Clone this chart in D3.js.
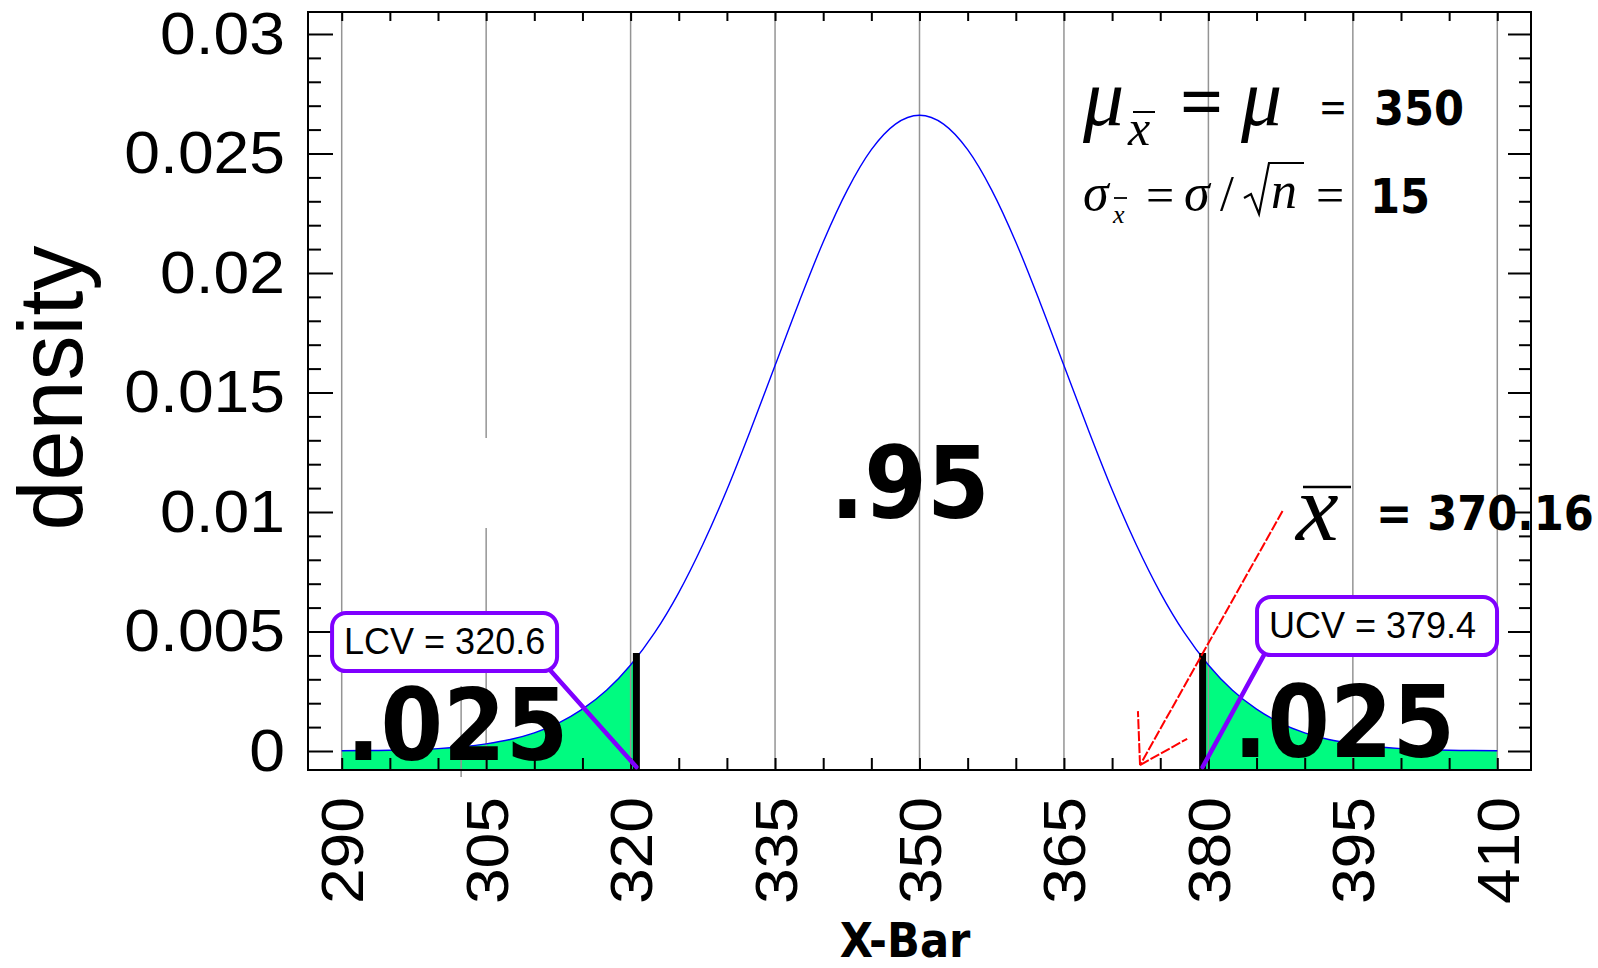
<!DOCTYPE html>
<meta charset="utf-8">
<script src="https://cdn.jsdelivr.net/npm/d3@7"></script>
<style>
body { margin: 0; background: #fff; }
text { font-family: "Liberation Sans", Arial, sans-serif; fill: #000; }
.bold { font-family: "DejaVu Sans Condensed", "DejaVu Sans", sans-serif; font-weight: bold; font-stretch: condensed; }
.math { font-family: "Liberation Serif", "Times New Roman", serif; font-style: italic; }
.serif { font-family: "Liberation Serif", "Times New Roman", serif; }
</style>
<body>
<script>

// sampling distribution of x-bar (mean 350, se 15)
var xValues = [290, 292.5, 295, 297.5, 300, 302.5, 305, 307.5, 310, 312.5, 315, 317.5, 320,
               322.5, 325, 327.5, 330, 332.5, 335, 337.5, 340, 342.5, 345, 347.5, 350,
               352.5, 355, 357.5, 360, 362.5, 365, 367.5, 370, 372.5, 375, 377.5, 380,
               382.5, 385, 387.5, 390, 392.5, 395, 397.5, 400, 402.5, 405, 407.5, 410]
var density = [0.00001, 0.00002, 0.00003, 0.00006, 0.0001, 0.00018, 0.0003, 0.00048, 0.00076, 0.00117, 0.00175, 0.00254, 0.0036,
               0.00495, 0.00663, 0.00864, 0.01093, 0.01347, 0.01613, 0.01879, 0.0213, 0.02347, 0.02516, 0.02623, 0.0266,
               0.02623, 0.02516, 0.02347, 0.0213, 0.01879, 0.01613, 0.01347, 0.01093, 0.00864, 0.00663, 0.00495, 0.0036,
               0.00254, 0.00175, 0.00117, 0.00076, 0.00048, 0.0003, 0.00018, 0.0001, 0.00006, 0.00003, 0.00002, 0.00001]

var xTicks = [290, 305, 320, 335, 350, 365, 380, 395, 410]
var xTickLabels = ["290", "305", "320", "335", "350", "365", "380", "395", "410"]
var yTicks = [0, 0.005, 0.01, 0.015, 0.02, 0.025, 0.03]
var yTickLabels = ["0", "0.005", "0.01", "0.015", "0.02", "0.025", "0.03"]

var lcv = 320.6
var ucv = 379.4
var critDensity = 0.0039   // curve height at both critical values
var critBarTop = 0.0041
var xbar = 370.16
var mu = 350
var se = 15
var areaLabels = [".025", ".95", ".025"]
var areaLabelX = [302.0, 349.0, 394.1]
var areaLabelY = [-0.00038, 0.00975, -0.00025]

var width = 1598
var height = 968

var x = d3.scaleLinear().domain([286.5, 413.5]).range([308, 1531]);
var y = d3.scaleLinear().domain([-0.000795, 0.03092]).range([770, 12]);
var x0 = x.range()[0], x1 = x.range()[1], y0 = y.range()[0], y1 = y.range()[1];

var svg = d3.select("body").append("svg")
            .attr("width", width)
            .attr("height", height)
            .style("display", "block");

var pts = xValues.map(function(d, i) { return {x: d, y: density[i]}; });
var leftTail = pts.filter(function(d) { return d.x <= lcv; }).concat([{x: lcv, y: critDensity}]);
var rightTail = [{x: ucv, y: critDensity}].concat(pts.filter(function(d) { return d.x >= ucv; }));

var area = d3.area().x(function(d) { return x(d.x); }).y0(y0).y1(function(d) { return y(d.y); }).curve(d3.curveMonotoneX);
var line = d3.line().x(function(d) { return x(d.x); }).y(function(d) { return y(d.y); }).curve(d3.curveMonotoneX);

// green tails
svg.append("path").attr("d", area(leftTail)).attr("fill", "#00fb80");
svg.append("path").attr("d", area(rightTail)).attr("fill", "#00fb80");

// vertical grid (the 305 line is broken in the original)
var gridGap = [0.00933, 0.0131];
xTicks.forEach(function(t) {
  var segs = t === 305 ? [[y0, y(gridGap[0])], [y(gridGap[1]), y1]] : [[y0, y1]];
  segs.forEach(function(s) {
    svg.append("line").attr("x1", x(t)).attr("x2", x(t)).attr("y1", s[0]).attr("y2", s[1])
       .attr("stroke", "#949494").attr("stroke-width", 1.5);
  });
});
// stray grey segment near 302.4
svg.append("line").attr("x1", x(302.4)).attr("x2", x(302.4)).attr("y1", y(0.00272)).attr("y2", y(-0.00109))
   .attr("stroke", "#949494").attr("stroke-width", 1.5);

// density curve
svg.append("path").attr("d", line(pts)).attr("fill", "none").attr("stroke", "#0000ff").attr("stroke-width", 1.4);

// critical value bars
[lcv, ucv].forEach(function(c) {
  svg.append("line").attr("x1", x(c)).attr("x2", x(c)).attr("y1", y0).attr("y2", y(critBarTop))
     .attr("stroke", "#000").attr("stroke-width", 7);
});

// frame ticks
var xMinor = d3.range(290, 410.1, 5);
var yMinor = d3.range(0, 0.03001, 0.001);
var yMajorSet = yTicks.map(function(d) { return d.toFixed(3); });
var yMinorOnly = yMinor.filter(function(d) { return yMajorSet.indexOf(d.toFixed(3)) < 0; });

function tickGroup(axis, tx, ty) {
  var g = svg.append("g").attr("transform", "translate(" + tx + "," + ty + ")").call(axis);
  g.select(".domain").remove();
  g.selectAll("line").attr("stroke", "#000").attr("stroke-width", 2);
  g.selectAll("text").remove();
  return g;
}
tickGroup(d3.axisTop(x).tickValues(xMinor).tickSize(12), 0, y0);
tickGroup(d3.axisBottom(x).tickValues(xMinor).tickSize(9), 0, y1);
tickGroup(d3.axisRight(y).tickValues(yMinorOnly).tickSize(13), x0, 0);
tickGroup(d3.axisRight(y).tickValues(yTicks).tickSize(25), x0, 0);
tickGroup(d3.axisLeft(y).tickValues(yMinorOnly).tickSize(12), x1, 0);
tickGroup(d3.axisLeft(y).tickValues(yTicks).tickSize(23), x1, 0);

svg.append("rect").attr("x", x0).attr("y", y1).attr("width", x1 - x0).attr("height", y0 - y1)
   .attr("fill", "none").attr("stroke", "#000").attr("stroke-width", 2);

// the original tick font is a little wider than Arial
function widen(sel, k) {
  sel.each(function() {
    var l = this.getComputedTextLength();
    d3.select(this).attr("textLength", l * k).attr("lengthAdjust", "spacingAndGlyphs");
  });
}

// tick labels
var gy = svg.append("g").attr("transform", "translate(" + x0 + ",0)")
            .call(d3.axisLeft(y).tickValues(yTicks).tickSize(0).tickPadding(23)
                    .tickFormat(function(d, i) { return yTickLabels[i]; }));
gy.select(".domain").remove();
gy.selectAll("text").style("font-family", "'Liberation Sans', Arial, sans-serif").style("font-size", "60px").attr("fill", "#000");
widen(gy.selectAll("text"), 1.07);

var gx = svg.append("g").attr("transform", "translate(0," + y0 + ")")
            .call(d3.axisBottom(x).tickValues(xTicks).tickSize(0)
                    .tickFormat(function(d, i) { return xTickLabels[i]; }));
gx.select(".domain").remove();
gx.selectAll("text").attr("x", -27).attr("y", 0).attr("dy", "0.35em")
  .attr("transform", "rotate(-90)").style("text-anchor", "end")
  .style("font-family", "'Liberation Sans', Arial, sans-serif").style("font-size", "60px").attr("fill", "#000");
widen(gx.selectAll("text"), 1.07);

// axis titles
svg.append("text").attr("transform", "translate(82,388) rotate(-90)").style("text-anchor", "middle")
   .style("font-size", "90px").text("density");
svg.append("text").attr("class", "bold").attr("x", 905).attr("y", 957).style("text-anchor", "middle")
   .style("font-size", "48px").text("X-Bar");

// area labels
areaLabels.forEach(function(t, i) {
  svg.append("text").attr("class", "bold").attr("x", x(areaLabelX[i])).attr("y", y(areaLabelY[i]))
     .style("text-anchor", "middle").style("font-size", "100px").text(t);
});

// formula block
function txt(cls, tx, ty, size, s) {
  return svg.append("text").attr("class", cls).attr("x", tx).attr("y", ty).style("font-size", size + "px").text(s);
}
function bar(xa, xb, yy, w) {
  svg.append("line").attr("x1", xa).attr("x2", xb).attr("y1", yy).attr("y2", yy).attr("stroke", "#000").attr("stroke-width", w);
}
txt("math", 1083, 125, 82, "\u03bc");
txt("math", 1128, 145, 50, "x");
bar(1133, 1155, 112, 2);
txt("serif", 1180, 127, 76, "=").style("font-weight", "bold");
txt("math", 1241, 125, 82, "\u03bc");
txt("serif", 1320, 123, 46, "=").style("font-weight", "bold");
txt("bold", 1374, 125, 48, mu);

txt("math", 1083, 210, 52, "\u03c3");
txt("math", 1113, 223, 26, "x");
bar(1114, 1127, 198, 1.8);
txt("serif", 1146, 212, 50, "=");
txt("math", 1184, 210, 52, "\u03c3");
txt("serif", 1220, 210, 50, "/");
svg.append("path").attr("d", "M1244,198 L1251,194 L1259,214 L1269,163 L1304,163")
   .attr("fill", "none").attr("stroke", "#000").attr("stroke-width", 2.2);
txt("math", 1271, 208, 52, "n");
txt("serif", 1316, 212, 50, "=");
txt("bold", 1370, 213, 48, se);

// x-bar label
txt("math", 1296, 540, 96, "x");
bar(1303, 1351, 487, 2.5);
txt("bold", 1376, 530, 48, "= " + xbar);

// critical value callouts
function callout(bx, by, w, h, label, cx) {
  svg.append("line").attr("x1", x(bx) + (cx < bx ? 8 : w - 8)).attr("y1", y(by) + h - 2)
     .attr("x2", x(cx)).attr("y2", y0 - 3)
     .attr("stroke", "#7f00ff").attr("stroke-width", 4.5).attr("stroke-linecap", "round");
  svg.append("rect").attr("x", x(bx)).attr("y", y(by)).attr("width", w).attr("height", h)
     .attr("rx", 14).attr("fill", "#fff").attr("stroke", "#7f00ff").attr("stroke-width", 4);
  svg.append("text").attr("x", x(bx) + 12).attr("y", y(by) + 41).style("font-size", "36px").text(label);
}
callout(289.0, 0.00577, 225, 58, "LCV = " + lcv, lcv);
callout(385.05, 0.00644, 240, 58, "UCV = " + ucv, ucv);

// red arrow
var arrowFrom = [387.7, 0.01004], arrowTo = [372.9, -0.00059];
var ax0 = x(arrowFrom[0]), ay0 = y(arrowFrom[1]), ax1 = x(arrowTo[0]), ay1 = y(arrowTo[1]);
var ang = Math.atan2(ay0 - ay1, ax0 - ax1);
var arrow = svg.append("g").attr("stroke", "#ff0000").attr("stroke-width", 2).attr("stroke-dasharray", "10 2");
arrow.append("line").attr("x1", ax0).attr("y1", ay0).attr("x2", ax1).attr("y2", ay1);
[-0.55, 0.55].forEach(function(da) {
  arrow.append("line").attr("x1", ax1).attr("y1", ay1)
       .attr("x2", ax1 + 54 * Math.cos(ang + da)).attr("y2", ay1 + 54 * Math.sin(ang + da));
});

</script>
</body>
